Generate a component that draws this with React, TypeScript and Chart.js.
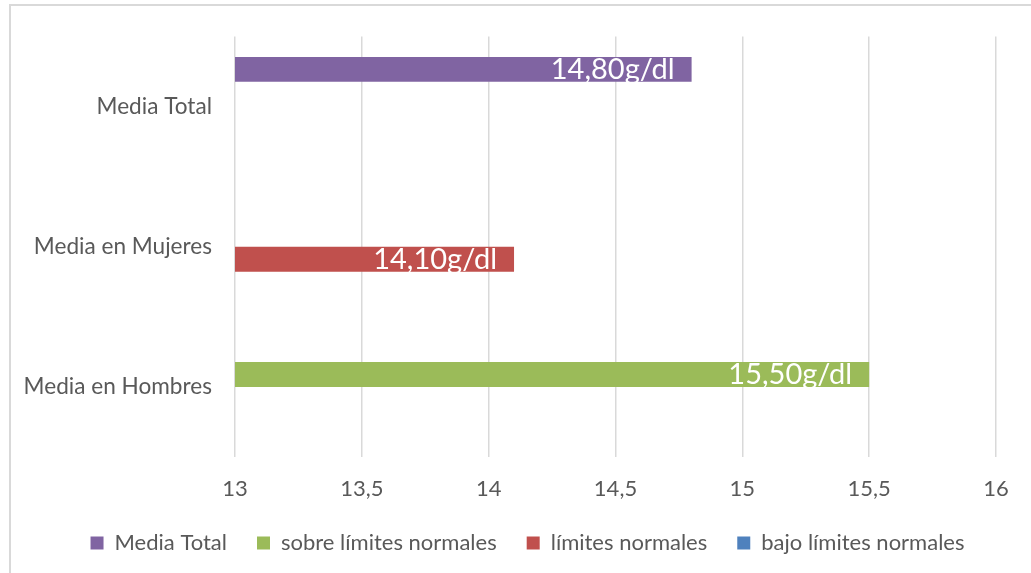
import React, { useEffect, useRef } from 'react';
import { Chart, registerables } from 'chart.js';

Chart.register(...registerables);

const categories = ['Media Total', 'Media en Mujeres', 'Media en Hombres'];
const seriesNames = ['Media Total', 'sobre límites normales', 'límites normales', 'bajo límites normales'];
const mediaTotal = [14.8, null, null];
const sobreLimites = [null, null, 15.5];
const limitesNormales = [null, 14.1, null];
const bajoLimites = [null, null, null];
const seriesColors = ['#8064A2', '#9BBB59', '#C0504D', '#4F81BD'];
const xMin = 13;
const xMax = 16;
const xStep = 0.5;
const unit = 'g/dl';

const FONT = 'Lato';
const TEXT = '#595959';

const barLabels = {
  id: 'barLabels',
  afterDatasetsDraw(chart: any) {
    const ctx = chart.ctx;
    ctx.save();
    ctx.font = `29px ${FONT}`;
    ctx.fillStyle = '#ffffff';
    ctx.textAlign = 'right';
    ctx.textBaseline = 'alphabetic';
    chart.data.datasets.forEach((ds: any, i: number) => {
      const meta = chart.getDatasetMeta(i);
      meta.data.forEach((bar: any, j: number) => {
        const v = ds.data[j];
        if (v == null) return;
        ctx.fillText(v.toFixed(2).replace('.', ',') + unit, bar.x - 17, bar.y + 9.5);
      });
    });
    ctx.restore();
  },
};

// shift the legend box so that it is centred like the reference
const legendShift = {
  id: 'legendShift',
  afterLayout(chart: any) {
    const lg = chart.legend;
    if (!lg) return;
    lg.left = 59;
    lg.width = lg.right - lg.left;
  },
};

export default function App() {
  const ref = useRef<HTMLCanvasElement | null>(null);
  useEffect(() => {
    if (!ref.current) return;
    Chart.defaults.font.family = FONT;
    const seriesData = [mediaTotal, sobreLimites, limitesNormales, bajoLimites];
    const chart = new Chart(ref.current, {
      type: 'bar',
      data: {
        labels: categories,
        datasets: seriesNames.map((name, i) => ({
          label: name,
          data: seriesData[i] as any,
          backgroundColor: seriesColors[i],
          borderWidth: 0,
          barPercentage: 1,
          categoryPercentage: 0.71,
        })),
      },
      options: {
        indexAxis: 'y',
        animation: false,
        responsive: false,
        maintainAspectRatio: false,
        layout: { padding: { left: 12, right: 35, top: 34, bottom: 9 } },
        plugins: {
          legend: {
            position: 'bottom',
            labels: {
              boxWidth: 13,
              boxHeight: 13,
              padding: 30,
              color: TEXT,
              font: { size: 22, family: FONT },
            },
          },
          tooltip: { enabled: false },
        },
        scales: {
          x: {
            type: 'linear',
            min: xMin,
            max: xMax,
            ticks: {
              stepSize: xStep,
              color: TEXT,
              font: { size: 22, family: FONT },
              padding: 19,
              callback: (v: any) => String(v).replace('.', ','),
            },
            grid: { color: '#d9d9d9', lineWidth: 1.5, drawTicks: false },
            border: { display: false },
            afterFit: (s: any) => {
              s.height = 45;
            },
          },
          y: {
            ticks: { color: TEXT, font: { size: 22.6, family: FONT }, padding: 23 },
            grid: { display: false, drawTicks: false },
            border: { display: false },
            afterFit: (s: any) => {
              s.width = 223;
            },
          },
        },
      },
      plugins: [barLabels, legendShift],
    });
    return () => chart.destroy();
  }, []);

  return (
    <div style={{ position: 'absolute', left: 0, top: 0, width: 1031, height: 573, overflow: 'hidden', background: '#fff' }}>
      <div
        style={{
          position: 'absolute',
          left: 9,
          top: 4,
          width: 1040,
          height: 600,
          border: '2px solid #d9d9d9',
          boxSizing: 'border-box',
        }}
      />
      <canvas ref={ref} width={1031} height={573} style={{ position: 'absolute', left: 0, top: 0 }} />
    </div>
  );
}
